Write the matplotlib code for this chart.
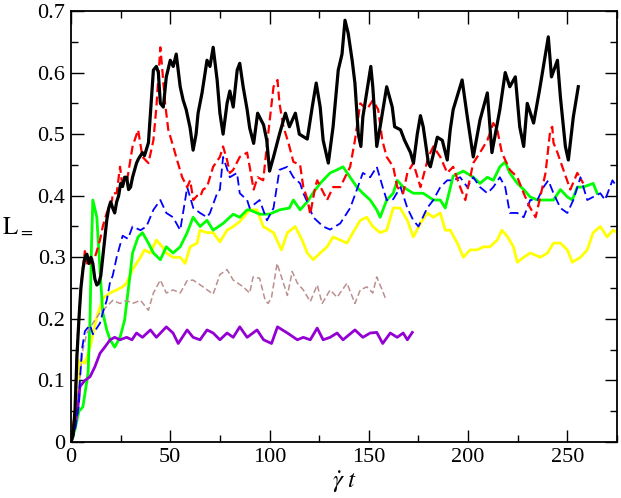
import matplotlib
matplotlib.use("Agg")
import matplotlib.pyplot as plt
from matplotlib.ticker import MultipleLocator

plt.rcParams["font.family"] = ["Liberation Serif", "DejaVu Serif"]
plt.rcParams["mathtext.fontset"] = "stix"

# ---- data (x = gamma-dot t, y = L_=) ----
black_x = [0, 1, 2, 3, 4, 5, 6, 7, 8, 9, 10, 11, 12, 13, 14, 15, 16, 17, 18, 19, 20,
           21, 22, 23, 24, 25, 26, 27, 28, 29, 30, 31, 33, 34, 36, 37, 39, 40, 41.5,
           43, 44, 45, 46.5, 48, 50, 51.5, 53, 55, 56.5, 58, 60, 61.5, 63, 64, 66,
           68.5, 70, 71.6, 73.6, 75, 76.6, 78.6, 80, 81.7, 83.7, 85, 86.7, 88.7, 90,
           92, 94, 97, 98.6, 100, 102, 105, 108, 110, 113, 115, 119, 121.5, 123.5,
           125.5, 127, 129.6, 132, 134.6, 136.5, 138, 139.6, 141.6, 143, 144.7, 146,
           147, 149.7, 151, 152, 154, 155.7, 159, 161.8, 163, 166, 168, 171, 172.5,
           174.4, 176, 177.4, 180, 181, 184.5, 187, 189.5, 191, 192.5, 197, 199.6,
           202.6, 206, 209.7, 212, 216, 218.7, 221, 223.8, 226, 228, 229.8, 233, 236,
           240.4, 242, 245, 246.5, 249, 250.5, 253, 255.5]
black_y = [0, 0.01, 0.05, 0.14, 0.2, 0.25, 0.28, 0.30, 0.305, 0.29, 0.30, 0.29, 0.265,
           0.255, 0.258, 0.27, 0.30, 0.33, 0.36, 0.38, 0.39, 0.38, 0.372, 0.39, 0.40,
           0.42, 0.415, 0.43, 0.43, 0.41, 0.414, 0.43, 0.453, 0.46, 0.47, 0.465, 0.486,
           0.534, 0.604, 0.61, 0.60, 0.55, 0.544, 0.593, 0.62, 0.61, 0.63, 0.577, 0.555,
           0.54, 0.51, 0.474, 0.50, 0.534, 0.567, 0.62, 0.61, 0.641, 0.588, 0.534, 0.50,
           0.55, 0.57, 0.544, 0.604, 0.615, 0.577, 0.54, 0.51, 0.485, 0.534, 0.515, 0.49,
           0.44, 0.463, 0.50, 0.534, 0.512, 0.534, 0.50, 0.492, 0.544, 0.583, 0.544,
           0.49, 0.453, 0.512, 0.604, 0.63, 0.685, 0.664, 0.62, 0.583, 0.50, 0.48, 0.528,
           0.583, 0.61, 0.577, 0.48, 0.512, 0.577, 0.544, 0.512, 0.507, 0.49, 0.47,
           0.453, 0.50, 0.53, 0.512, 0.453, 0.447, 0.495, 0.49, 0.458, 0.507, 0.54,
           0.588, 0.528, 0.463, 0.523, 0.567, 0.47, 0.54, 0.60, 0.577, 0.593, 0.512,
           0.48, 0.55, 0.518, 0.572, 0.658, 0.593, 0.62, 0.56, 0.48, 0.458, 0.528, 0.577]

red_x = [0, 2, 3, 4, 5, 6, 7, 8, 9, 10, 11, 12, 13, 14.6, 16, 18, 20.7, 21, 23, 24.7,
         25.7, 28, 31, 33.8, 36, 39, 41.5, 43, 45, 46, 47.4, 49, 51.5, 53.4, 56, 58.5,
         60, 61.6, 63.5, 65, 66.5, 68.5, 70, 71.6, 75, 76.6, 78.6, 80, 81.7, 85, 88.7,
         90, 92, 94, 96.8, 99.3, 102, 104, 105, 107, 109.5, 112, 115.4, 117, 119,
         120.5, 123, 124, 129, 132, 135.6, 140.6, 143, 145.7, 149, 152, 154.7, 156.8,
         159, 162.3, 164.3, 167.3, 169.4, 172.4, 176, 180, 182.5, 186, 189.5, 192.5,
         196, 198.6, 202.6, 206, 209.7, 212.7, 214.7, 217, 221, 224.8, 228, 231, 234,
         236, 239, 241.4, 242.4, 243, 245, 248, 251.5, 255, 258]
red_y = [0, 0.05, 0.15, 0.2, 0.25, 0.285, 0.31, 0.29, 0.30, 0.29, 0.30, 0.30, 0.31,
         0.328, 0.35, 0.372, 0.393, 0.404, 0.404, 0.447, 0.42, 0.42, 0.48, 0.507, 0.463,
         0.453, 0.49, 0.544, 0.641, 0.604, 0.55, 0.507, 0.48, 0.458, 0.43, 0.414, 0.425,
         0.393, 0.40, 0.398, 0.41, 0.414, 0.43, 0.447, 0.463, 0.48, 0.458, 0.437, 0.442,
         0.463, 0.47, 0.447, 0.41, 0.43, 0.425, 0.50, 0.577, 0.588, 0.55, 0.512, 0.486,
         0.455, 0.45, 0.414, 0.395, 0.37, 0.414, 0.425, 0.393, 0.414, 0.414, 0.447,
         0.49, 0.55, 0.54, 0.555, 0.54, 0.49, 0.463, 0.447, 0.414, 0.404, 0.437, 0.453,
         0.414, 0.463, 0.48, 0.463, 0.437, 0.447, 0.414, 0.393, 0.453, 0.47, 0.49,
         0.518, 0.507, 0.47, 0.442, 0.43, 0.404, 0.382, 0.365, 0.393, 0.437, 0.507,
         0.512, 0.486, 0.47, 0.442, 0.41, 0.437, 0.42]

blue_x = [0, 2, 4, 4.5, 5.5, 7, 9.6, 11, 14.6, 16, 18, 19.7, 21, 23, 26, 28.7, 31, 35,
          38, 41.5, 45, 48, 51.4, 55, 57.5, 58.5, 61.6, 65, 68.5, 70, 73.6, 75, 76.6,
          80, 83.6, 85, 88.7, 90, 95, 98.7, 102, 105, 109, 112, 115.4, 117, 119, 122,
          127, 130.5, 135.6, 140.6, 144, 147, 150.7, 154, 157, 159, 162, 166, 169.4,
          172.4, 175, 179.4, 182.5, 186, 189.5, 192.5, 196, 199.6, 202.6, 206, 209.7,
          212.7, 216, 218.7, 221, 224.8, 228, 231.3, 234.9, 238, 240.4, 243, 246.5,
          250, 253, 256.6, 260, 263, 266.6, 269, 272.7, 275]
blue_y = [0, 0.02, 0.06, 0.10, 0.15, 0.18, 0.19, 0.175, 0.193, 0.21, 0.23, 0.26, 0.27,
          0.30, 0.335, 0.33, 0.35, 0.344, 0.35, 0.377, 0.393, 0.372, 0.365, 0.344,
          0.393, 0.414, 0.38, 0.372, 0.365, 0.372, 0.404, 0.41, 0.463, 0.43, 0.437,
          0.404, 0.393, 0.38, 0.393, 0.36, 0.38, 0.442, 0.447, 0.43, 0.42, 0.404, 0.39,
          0.365, 0.35, 0.345, 0.355, 0.38, 0.41, 0.437, 0.43, 0.447, 0.414, 0.393,
          0.393, 0.414, 0.38, 0.36, 0.35, 0.38, 0.393, 0.414, 0.425, 0.425, 0.43, 0.414,
          0.43, 0.414, 0.404, 0.414, 0.43, 0.414, 0.372, 0.372, 0.365, 0.393, 0.393,
          0.414, 0.425, 0.404, 0.38, 0.372, 0.393, 0.43, 0.393, 0.398, 0.404, 0.393,
          0.425, 0.414]

green_x = [0, 2, 4, 6, 8.6, 9.6, 10.3, 11, 13, 14.6, 16, 18, 19.7, 22, 24.7, 27, 29.7,
           31, 33.8, 36, 39, 41.5, 45, 48, 51.4, 55, 58.5, 61.5, 65, 68.5, 71.6, 76.6,
           81.7, 85, 88.7, 90, 95, 100, 105, 110, 112, 115.4, 119, 122, 125.5, 130.5,
           134, 137, 140.6, 144, 147, 150.7, 154, 155.7, 159, 162.3, 164.3, 167.3,
           172.4, 177.4, 182.5, 186, 188.5, 192.5, 197.6, 202.6, 206, 209.7, 212.7,
           216, 218.7, 221, 224.8, 228, 231.3, 234.9, 238, 243, 246.5, 250, 252.5, 255,
           258, 263, 265]
green_y = [0, 0.02, 0.05, 0.057, 0.112, 0.203, 0.317, 0.393, 0.365, 0.28, 0.21, 0.182,
           0.166, 0.154, 0.17, 0.198, 0.27, 0.307, 0.333, 0.34, 0.323, 0.307, 0.296,
           0.317, 0.307, 0.317, 0.34, 0.365, 0.35, 0.36, 0.344, 0.355, 0.37, 0.365,
           0.377, 0.377, 0.37, 0.37, 0.377, 0.38, 0.393, 0.377, 0.39, 0.405, 0.42,
           0.437, 0.442, 0.447, 0.43, 0.414, 0.404, 0.393, 0.377, 0.365, 0.393, 0.404,
           0.425, 0.414, 0.404, 0.404, 0.393, 0.393, 0.38, 0.432, 0.44, 0.43, 0.42,
           0.43, 0.425, 0.447, 0.455, 0.437, 0.42, 0.41, 0.398, 0.393, 0.393, 0.393,
           0.41, 0.398, 0.393, 0.414, 0.414, 0.42, 0.404]

yellow_x = [0, 2, 3, 4.5, 7, 9.6, 13, 16, 19.7, 23, 26, 28, 31, 35, 37, 40, 43, 46, 48,
            51.4, 55, 57.5, 60, 63.5, 65, 68.5, 71.6, 75, 78.6, 81.7, 85, 88.7, 90,
            93.7, 96.8, 102, 106, 109, 112.9, 116.4, 119, 122, 125.5, 129, 132, 135.6,
            139, 142, 145.7, 149, 152, 155.7, 159, 162.3, 165.8, 169.4, 172.4, 176,
            179.4, 182.5, 186, 188.5, 191, 194.6, 197.6, 201, 204.6, 207.7, 211, 214.7,
            217, 220, 222.8, 224.8, 228, 231.3, 236.4, 240, 243, 246.5, 250, 252.5,
            256.6, 260, 263, 266.6, 270, 273, 275.7]
yellow_y = [0, 0.03, 0.08, 0.133, 0.128, 0.154, 0.203, 0.233, 0.242, 0.247, 0.252,
            0.258, 0.28, 0.30, 0.312, 0.307, 0.328, 0.317, 0.307, 0.30, 0.30, 0.29,
            0.317, 0.323, 0.344, 0.34, 0.34, 0.325, 0.344, 0.35, 0.358, 0.372, 0.377,
            0.377, 0.35, 0.34, 0.312, 0.34, 0.35, 0.328, 0.307, 0.296, 0.307, 0.317,
            0.333, 0.328, 0.323, 0.34, 0.36, 0.365, 0.35, 0.34, 0.344, 0.38, 0.38, 0.36,
            0.333, 0.355, 0.372, 0.365, 0.372, 0.344, 0.344, 0.323, 0.30, 0.312, 0.312,
            0.317, 0.317, 0.328, 0.344, 0.333, 0.317, 0.292, 0.30, 0.307, 0.30, 0.307,
            0.323, 0.323, 0.312, 0.292, 0.30, 0.312, 0.34, 0.35, 0.333, 0.344, 0.34]

brown_x = [0, 2, 4, 6, 8, 11, 14.6, 18, 21, 24.7, 28, 31, 35, 39, 41.5, 45, 48, 51.4,
           55, 58.5, 61.5, 66.5, 71.6, 75, 78.6, 81.7, 86.7, 90, 91.7, 95, 97.8, 99.3,
           101, 103.8, 106, 109, 111.4, 114, 117, 120.5, 124, 126.5, 130.5, 134, 139,
           143, 145.7, 149, 152, 154, 156.7, 158.8]
brown_y = [0, 0.03, 0.09, 0.15, 0.177, 0.193, 0.21, 0.22, 0.23, 0.225, 0.23, 0.225,
           0.23, 0.214, 0.242, 0.263, 0.242, 0.247, 0.242, 0.262, 0.263, 0.252, 0.24,
           0.272, 0.28, 0.263, 0.252, 0.242, 0.268, 0.266, 0.23, 0.225, 0.235, 0.29,
           0.268, 0.238, 0.277, 0.258, 0.247, 0.228, 0.255, 0.225, 0.247, 0.235, 0.258,
           0.225, 0.247, 0.252, 0.242, 0.268, 0.247, 0.23]

purple_x = [0, 2, 3.5, 4.5, 7, 9.6, 12, 14.6, 17, 19.7, 22, 24.7, 28, 30.7, 33, 36, 40,
            43, 48, 51.4, 54, 58.5, 61.5, 65, 68.5, 71.6, 75, 78.6, 81.7, 85, 88.7,
            93.7, 97, 101, 104, 109, 114, 117, 120.5, 124, 127, 130.5, 134, 137, 143,
            147, 150.7, 154, 157, 160.8, 164.3, 167.3, 169.4, 171.9]
purple_y = [0, 0.025, 0.057, 0.09, 0.10, 0.106, 0.122, 0.144, 0.154, 0.166, 0.17,
            0.166, 0.17, 0.166, 0.177, 0.17, 0.182, 0.17, 0.187, 0.177, 0.16, 0.182,
            0.17, 0.166, 0.182, 0.177, 0.166, 0.177, 0.17, 0.187, 0.17, 0.182, 0.166,
            0.16, 0.187, 0.177, 0.166, 0.17, 0.166, 0.185, 0.166, 0.17, 0.177, 0.166,
            0.182, 0.17, 0.177, 0.178, 0.16, 0.177, 0.17, 0.177, 0.166, 0.178]

fig = plt.figure(figsize=(6.21, 4.98), dpi=100)
ax = fig.add_axes([71 / 621, 56 / 498, 546 / 621, 431 / 498])

ax.plot(yellow_x, yellow_y, color="#ffff00", lw=2.0)
ax.plot(green_x, green_y, color="#00ff00", lw=2.0)
ax.plot(brown_x, brown_y, color="#bc8f8f", lw=1.1, dashes=(4, 2))
ax.plot(purple_x, purple_y, color="#9400d3", lw=2.0)
ax.plot(blue_x, blue_y, color="#0000ff", lw=1.3, dashes=(5, 2.5))
ax.plot(red_x, red_y, color="#ff0000", lw=1.6, dashes=(4, 2))
ax.plot(black_x, black_y, color="black", lw=2.3)

ax.set_xlim(0, 275)
ax.set_ylim(0, 0.7)
ax.xaxis.set_major_locator(MultipleLocator(50))
ax.xaxis.set_minor_locator(MultipleLocator(25))
ax.yaxis.set_major_locator(MultipleLocator(0.1))
ax.yaxis.set_minor_locator(MultipleLocator(0.05))
ax.tick_params(which="both", direction="in", top=True, right=True, width=1.0,
               labelsize=16, pad=4)
ax.tick_params(which="major", length=9)
ax.tick_params(which="minor", length=5)
ax.yaxis.set_major_formatter(plt.FuncFormatter(lambda v, p: "0" if v == 0 else f"{v:.1f}"))
for s in ax.spines.values():
    s.set_linewidth(1.3)

ax.set_xlabel(r"$\dot{\gamma}\;t$", fontsize=18, labelpad=2)
ax.set_ylabel(r"$\mathrm{L}_{=}$", fontsize=18, rotation=0, labelpad=14, va="center")

fig.savefig("out.png", dpi=100)
